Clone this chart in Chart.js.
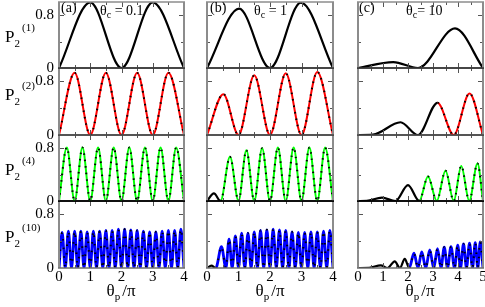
<!DOCTYPE html>
<html>
<head>
<meta charset="utf-8">
<script src="https://cdn.jsdelivr.net/npm/chart.js@4.4.0/dist/chart.umd.min.js"></script>
<style>
    body { margin: 0; background: #fff; }
    #fig { position: relative; width: 485px; height: 307px; overflow: hidden; background: #fff;
           font-family: "Liberation Serif", "Times New Roman", serif; color: #000; }
    #fig canvas { position: absolute; }
    .txt { position: absolute; white-space: nowrap; z-index: 2; }
    .ylab { left: 5px; font-size: 17px; line-height: 17px; }
    .xlab { top: 282px; width: 120px; text-align: center; font-size: 17px; line-height: 17px; }
    .tag { top: 1px; font-size: 14px; line-height: 14px; }
    .theta { top: 4px; font-size: 14px; line-height: 14px; }
    .sb { font-size: 11px; position: relative; top: 5px; }
    .sp { font-size: 11px; position: relative; top: -11px; margin-left: 2px; }
    .xlab .sb { top: 4px; }
    .theta .sb { font-size: 10px; top: 3px; }
</style>
</head>
<body>
<div id="fig">
    <div class="txt ylab" style="top:28px">P<span class="sb">2</span><span class="sp">(1)</span></div>
    <div class="txt ylab" style="top:86px">P<span class="sb">2</span><span class="sp">(2)</span></div>
    <div class="txt ylab" style="top:161px">P<span class="sb">2</span><span class="sp">(4)</span></div>
    <div class="txt ylab" style="top:228px">P<span class="sb">2</span><span class="sp">(10)</span></div>

    <div class="txt xlab" style="left:61px">θ<span class="sb">p</span><span style="margin-left:2px">/π</span></div>
    <div class="txt xlab" style="left:210px">θ<span class="sb">p</span><span style="margin-left:2px">/π</span></div>
    <div class="txt xlab" style="left:360px">θ<span class="sb">p</span><span style="margin-left:2px">/π</span></div>

    <div class="txt tag" style="left:61px">(a)</div>
    <div class="txt tag" style="left:210px">(b)</div>
    <div class="txt tag" style="left:359px">(c)</div>

    <div class="txt theta" style="left:100px">θ<span class="sb">c</span> = 0.1</div>
    <div class="txt theta" style="left:254px">θ<span class="sb">c</span> = 1</div>
    <div class="txt theta" style="left:406px">θ<span class="sb">c</span>= 10</div>
</div>
<script>
// (a) theta_c = 0.1
const a1x = [0, 1, 2, 3, 4];
const a1y = [0, 0.995, 0, 0.995, 0];
const a2x = [0, 0.5, 1, 1.5, 2, 2.5, 3, 3.5, 4];
const a2y = [0, 0.93, 0, 0.93, 0, 0.93, 0, 0.93, 0];
const a3x = [0, 0.25, 0.5, 0.75, 1, 1.25, 1.5, 1.75, 2, 2.25, 2.5, 2.75, 3, 3.25, 3.5, 3.75, 4];
const a3y = [0, 0.81, 0, 0.81, 0, 0.81, 0, 0.81, 0, 0.81, 0, 0.81, 0, 0.81, 0, 0.81, 0];
const a4x = [0, 0.1, 0.2, 0.3, 0.4, 0.5, 0.6, 0.7, 0.8, 0.9, 1, 1.1, 1.2, 1.3, 1.4, 1.5, 1.6, 1.7, 1.8, 1.9, 2,
             2.1, 2.2, 2.3, 2.4, 2.5, 2.6, 2.7, 2.8, 2.9, 3, 3.1, 3.2, 3.3, 3.4, 3.5, 3.6, 3.7, 3.8, 3.9, 4];
const a4y = [0, 0.53, 0, 0.55, 0, 0.55, 0, 0.55, 0, 0.54, 0, 0.55, 0, 0.55, 0, 0.56, 0, 0.56, 0, 0.58, 0,
             0.58, 0, 0.57, 0, 0.56, 0, 0.55, 0, 0.54, 0, 0.54, 0, 0.55, 0, 0.56, 0, 0.56, 0, 0.58, 0];

// (b) theta_c = 1
const b1x = [0, 1.02, 2, 2.98, 4];
const b1y = [0, 0.9, 0, 0.99, 0];
const b2x = [0, 0.52, 1, 1.5, 2, 2.5, 3, 3.5, 4];
const b2y = [0, 0.61, 0, 0.89, 0, 0.92, 0, 0.94, 0];
const b3x = [0, 0.22, 0.43, 0.73, 1, 1.25, 1.5, 1.75, 2, 2.25, 2.5, 2.75, 3, 3.25, 3.5, 3.75, 4];
const b3y = [0, 0.115, 0, 0.67, 0, 0.77, 0, 0.8, 0, 0.81, 0, 0.81, 0, 0.81, 0, 0.81, 0];
const b4x = [0, 0.14, 0.28, 0.46, 0.6, 0.7, 0.8, 0.9, 1, 1.1, 1.2, 1.3, 1.4, 1.5, 1.6, 1.7, 1.8, 1.9, 2,
             2.1, 2.2, 2.3, 2.4, 2.5, 2.6, 2.7, 2.8, 2.9, 3, 3.1, 3.2, 3.3, 3.4, 3.5, 3.6, 3.7, 3.8, 3.9, 4];
const b4y = [0, 0.035, 0, 0.32, 0, 0.43, 0, 0.48, 0, 0.52, 0, 0.52, 0, 0.54, 0, 0.56, 0, 0.57, 0,
             0.58, 0, 0.57, 0, 0.56, 0, 0.54, 0, 0.53, 0, 0.53, 0, 0.54, 0, 0.54, 0, 0.55, 0, 0.56, 0];

// (c) theta_c = 10
const c1x = [0, 1.41, 2.4, 3.88, 5];
const c1y = [0, 0.09, 0, 0.6, 0];
const c2x = [0, 0.6, 1.7, 2.4, 3.18, 3.83, 4.46, 5];
const c2y = [0, 0.005, 0.19, 0, 0.48, 0, 0.62, 0];
const c3x = [0, 0.35, 0.96, 1.5, 2, 2.45, 2.8, 3.15, 3.5, 3.83, 4.13, 4.45, 4.78, 5];
const c3y = [0, 0.003, 0.05, 0, 0.24, 0, 0.37, 0, 0.46, 0, 0.53, 0, 0.57, 0];
const c4x = [0, 0.45, 0.91, 1.18, 1.47, 1.68, 1.87, 2.05, 2.24, 2.4, 2.55, 2.71, 2.87, 3.03, 3.18,
             3.32, 3.45, 3.58, 3.72, 3.86, 3.99, 4.1, 4.22, 4.34, 4.46, 4.58, 4.69, 4.79, 4.89, 5];
const c4y = [0, 0.003, 0.04, 0, 0.1, 0, 0.135, 0, 0.22, 0, 0.24, 0, 0.27, 0, 0.29,
             0, 0.31, 0, 0.32, 0, 0.34, 0, 0.36, 0, 0.37, 0, 0.38, 0, 0.39, 0];

// where the coloured (approximate) curve starts, per column and row
const overlayA = [null, 0, 0, 0];
const overlayB = [null, 0, 0.43, 0.28];
const overlayC = [null, 3.18, 2.45, 2.05];

// axes
const xMaxes = [4, 4, 5];
const xTicksAB = [0, 1, 2, 3, 4];
const xTicksC = [0, 1, 2, 3, 4, 5];
const xLabelsAB = ["0", "1", "2", "3", "4"];
const xLabelsC = ["0", "1", "2", "3", "4", "5"];
const xMinorAB = [0.5, 1.5, 2.5, 3.5];
const xMinorC = [0.5, 1.5, 2.5, 3.5, 4.5];
const yTicks = [0, 0.4, 0.8];
const yLabels = ["0", "", "0.8"];

const seriesX = [[a1x, a2x, a3x, a4x], [b1x, b2x, b3x, b4x], [c1x, c2x, c3x, c4x]];
const seriesY = [[a1y, a2y, a3y, a4y], [b1y, b2y, b3y, b4y], [c1y, c2y, c3y, c4y]];
const overlays = [overlayA, overlayB, overlayC];
const xTicks = [xTicksAB, xTicksAB, xTicksC];
const xLabels = [xLabelsAB, xLabelsAB, xLabelsC];
const xMinor = [xMinorAB, xMinorAB, xMinorC];
const lineColors = ["#000000", "#ff0000", "#00ff00", "#0000ff"];
const lineWidths = [2.2, 2, 2, 2.8];
const dotGaps = [5, 5, 5, 7];

// layout of the panel grid, in page pixels
const colLeft = [59, 207, 358];
const colWidth = [125, 126, 125];
const rowTop = [2, 68, 135, 201];
const rowHeight = [66, 67, 66, 67];
const PAD = 8;
const YAXIS_W = 26;
const XAXIS_H = 20;
const boundaryColors = ["#8c8c8c", "#3a3a3a", "#4a4a4a", "#000000", "#6e6e6e"];

const tickFont = { family: "'Liberation Serif', 'Times New Roman', serif", size: 15 };

const panelFrame = {
    id: "panelFrame",
    afterDraw: function (chart, args, opts) {
        const ctx = chart.ctx;
        const area = chart.chartArea;
        const sx = chart.scales.x;
        const sy = chart.scales.y;
        const col = opts.col;
        const row = opts.row;

        ctx.save();
        ctx.strokeStyle = "#555";
        ctx.lineWidth = 1;
        ctx.beginPath();

        function xMark(v, len) {
            const px = Math.round(sx.getPixelForValue(v)) + 0.5;
            ctx.moveTo(px, area.top);
            ctx.lineTo(px, area.top + len);
            ctx.moveTo(px, area.bottom);
            ctx.lineTo(px, area.bottom - len);
        }

        function yMark(v, len) {
            const py = Math.round(sy.getPixelForValue(v)) + 0.5;
            ctx.moveTo(area.left, py);
            ctx.lineTo(area.left + len, py);
            ctx.moveTo(area.right, py);
            ctx.lineTo(area.right - len, py);
        }

        xTicks[col].forEach(function (v) {
            if (v > 0 && v < xMaxes[col]) {
                xMark(v, 5);
            }
        });
        xMinor[col].forEach(function (v) {
            xMark(v, 3);
        });
        yMark(0.8, 5);
        yMark(0.4, 3);
        ctx.stroke();

        ctx.lineWidth = 2;
        ctx.strokeStyle = "#8c8c8c";
        ctx.beginPath();
        ctx.moveTo(area.left, area.top);
        ctx.lineTo(area.left, area.bottom);
        ctx.moveTo(area.right, area.top);
        ctx.lineTo(area.right, area.bottom);
        ctx.stroke();

        ctx.lineWidth = 1.5;
        ctx.strokeStyle = boundaryColors[row];
        ctx.beginPath();
        ctx.moveTo(area.left - 1, area.top);
        ctx.lineTo(area.right + 1, area.top);
        ctx.stroke();
        ctx.strokeStyle = boundaryColors[row + 1];
        ctx.beginPath();
        ctx.moveTo(area.left - 1, area.bottom);
        ctx.lineTo(area.right + 1, area.bottom);
        ctx.stroke();
        ctx.restore();
    }
};

// the axes must not push the plot area around, so drop their label padding
function noScalePadding(s) {
    s.paddingLeft = 0;
    s.paddingRight = 0;
    s.paddingTop = 0;
    s.paddingBottom = 0;
}

const fig = document.getElementById("fig");

for (let c = 0; c < 3; c++) {
    for (let r = 0; r < 4; r++) {
        const showY = c === 0;
        const showX = r === 3;
        const extraL = showY ? YAXIS_W : 0;
        const extraB = showX ? XAXIS_H : 0;
        const canvas = document.createElement("canvas");
        const w = colWidth[c] + 2 * PAD + extraL;
        const h = rowHeight[r] + 2 * PAD + extraB;
        canvas.width = w;
        canvas.height = h;
        canvas.style.left = (colLeft[c] - PAD - extraL) + "px";
        canvas.style.top = (rowTop[r] - PAD) + "px";
        canvas.style.width = w + "px";
        canvas.style.height = h + "px";
        fig.insertBefore(canvas, fig.firstChild);

        const points = seriesX[c][r].map(function (x, i) {
            return { x: x, y: seriesY[c][r][i] };
        });
        const from = overlays[c][r];
        const color = lineColors[r];
        const datasets = [{
            data: points,
            borderColor: "#000",
            borderWidth: 2.2,
            pointRadius: 0,
            cubicInterpolationMode: "monotone",
            order: 1,
            segment: {
                borderDash: function (s) {
                    return from !== null && s.p0.parsed.x >= from ? [1.5, dotGaps[r]] : undefined;
                },
                borderWidth: function (s) {
                    return from !== null && s.p0.parsed.x >= from ? 2 : undefined;
                }
            }
        }];

        if (from !== null) {
            datasets.push({
                data: points,
                borderColor: color,
                borderWidth: lineWidths[r],
                pointRadius: 0,
                cubicInterpolationMode: "monotone",
                order: 2,
                segment: {
                    borderColor: function (s) {
                        return s.p0.parsed.x >= from ? color : "rgba(0,0,0,0)";
                    }
                }
            });
        }

        new Chart(canvas, {
            type: "line",
            data: { datasets: datasets },
            options: {
                responsive: false,
                animation: false,
                devicePixelRatio: 1,
                events: [],
                layout: { padding: PAD, autoPadding: false },
                plugins: {
                    legend: { display: false },
                    tooltip: { enabled: false },
                    panelFrame: { row: r, col: c }
                },
                scales: {
                    x: {
                        type: "linear",
                        min: 0,
                        max: xMaxes[c],
                        display: showX,
                        grid: { display: false, drawTicks: false },
                        border: { display: false },
                        afterBuildTicks: function (s) {
                            s.ticks = xTicks[c].map(function (v) { return { value: v }; });
                        },
                        afterFit: function (s) {
                            noScalePadding(s);
                            if (showX) {
                                s.height = XAXIS_H;
                            }
                        },
                        ticks: {
                            autoSkip: false,
                            maxRotation: 0,
                            padding: 0,
                            color: "#000",
                            font: tickFont,
                            callback: function (v, i) {
                                return xLabels[c][i];
                            }
                        }
                    },
                    y: {
                        min: 0,
                        max: 1,
                        display: showY,
                        grid: { display: false, drawTicks: false },
                        border: { display: false },
                        afterBuildTicks: function (s) {
                            s.ticks = yTicks.map(function (v) { return { value: v }; });
                        },
                        afterFit: function (s) {
                            noScalePadding(s);
                            if (showY) {
                                s.width = YAXIS_W;
                            }
                        },
                        ticks: {
                            padding: 5,
                            color: "#000",
                            font: tickFont,
                            callback: function (v, i) {
                                return yLabels[i];
                            }
                        }
                    }
                }
            },
            plugins: [panelFrame]
        });
    }
}
</script>
</body>
</html>
